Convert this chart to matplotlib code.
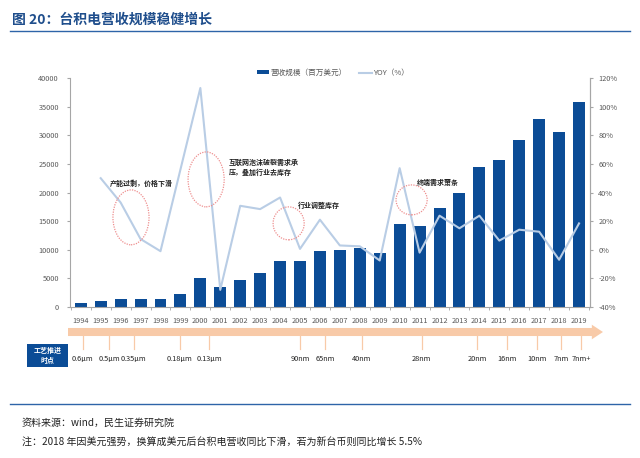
import matplotlib
matplotlib.use("Agg")
import matplotlib.pyplot as plt
from matplotlib.patches import Ellipse, Rectangle, FancyArrowPatch
from matplotlib.lines import Line2D
from matplotlib.transforms import blended_transform_factory
import numpy as np

plt.rcParams['font.family'] = ['Noto Sans CJK SC', 'DejaVu Sans']
plt.rcParams['axes.unicode_minus'] = False

# ---------------- data ----------------
years = [str(y) for y in range(1994, 2020)]
revenue = [640, 1000, 1340, 1460, 1460, 2330, 5010, 3550, 4720, 5940, 8090, 8090, 9720,
           10020, 10250, 9430, 14560, 14090, 17350, 19850, 24400, 25740, 29230, 32900,
           30500, 35750]
yoy_years = years[1:]
yoy = [50, 33, 7.5, -1, 56, 113, -28, 30.7, 28.4, 36.5, 0.6, 21, 3, 2.4, -7.5, 57, -2,
       23.8, 15, 23.8, 6.4, 14, 12.6, -7, 18.4]
left_ticks = [0, 5000, 10000, 15000, 20000, 25000, 30000, 35000, 40000]
right_ticks = [-40, -20, 0, 20, 40, 60, 80, 100, 120]
node_labels = ['0.6μm', '0.5μm', '0.35μm', '0.18μm', '0.13μm', '90nm', '65nm', '40nm',
               '28nm', '20nm', '16nm', '10nm', '7nm', '7nm+']
node_pos = [0.1, 1.42, 2.67, 4.98, 6.44, 11.0, 12.26, 14.1, 17.1, 19.9, 21.4, 22.9, 24.1, 25.1]
notes = ['产能过剩，价格下滑', '互联网泡沫破裂需求承\n压，叠加行业去库存', '行业调整库存', '终端需求萧条']
note_xy = [(1.475, 21680), (7.44, 24380), (10.9, 17840), (16.87, 21680)]
ellipses = [(2.52, 15660, 1.81, 9590), (6.29, 22290, 1.81, 9590),
            (10.43, 14610, 1.56, 5755), (16.6, 18710, 1.56, 5230)]

BAR = '#0b4c96'
LINE = '#b9cde5'
GREY = '#595959'
SPINE = '#a6a6a6'

W, H = 640, 458
fig = plt.figure(figsize=(6.4, 4.58), dpi=100)

def fx(px):
    return px / W

def fy(py):
    return 1 - py / H

ax = fig.add_axes([fx(70), fy(307), fx(590) - fx(70), fy(78) - fy(307)])
x = np.arange(len(years))
ax.bar(x, revenue, width=0.6, color=BAR, zorder=2, label='营收规模（百万美元）')
ax.set_ylim(0, 40000)
ax.set_yticks(left_ticks)
ax.set_yticklabels([str(v) for v in left_ticks])
ax.set_xlim(-0.54, len(years) - 1 + 0.55)
ax.set_xticks(x)
ax.set_xticklabels(years)
ax.set_xticks(np.arange(-0.5, len(years), 1), minor=True)
ax.tick_params(axis='x', which='major', length=0, pad=7, labelsize=5.3, labelcolor=GREY)
ax.tick_params(axis='x', which='minor', length=2, color=SPINE, direction='out')
ax.tick_params(axis='y', length=2, color=SPINE, labelsize=5.3, labelcolor=GREY, pad=6)
for s in ['top']:
    ax.spines[s].set_visible(False)
for s in ['left', 'right', 'bottom']:
    ax.spines[s].set_color(SPINE)
    ax.spines[s].set_linewidth(0.8)

ax2 = ax.twinx()
xi = np.arange(1, len(years))
ax2.plot(xi, yoy, color=LINE, lw=1.5, zorder=3, label='YOY（%）')
ax2.set_ylim(-40, 120)
ax2.set_yticks(right_ticks)
ax2.set_yticklabels([f'{v}%' for v in right_ticks])
ax2.tick_params(axis='y', length=2, color=SPINE, labelsize=5.3, labelcolor=GREY, pad=4)
for s in ['top', 'left', 'bottom']:
    ax2.spines[s].set_visible(False)
ax2.spines['right'].set_color(SPINE)
ax2.spines['right'].set_linewidth(0.8)

# legend
h1, l1 = ax.get_legend_handles_labels()
h2, l2 = ax2.get_legend_handles_labels()
leg = ax2.legend(h1 + h2, l1 + l2, loc='center', bbox_to_anchor=(0.506, 1.022), ncol=2,
                 frameon=False, fontsize=5.5, handlelength=1.6, handleheight=0.5,
                 columnspacing=1.6, handletextpad=0.2)
for t in leg.get_texts():
    t.set_color(GREY)

# annotations (ellipses and texts)
for (cx, cy, w, h) in ellipses:
    ax2.add_patch(Ellipse((cx, cy), w, h, transform=ax.transData, fill=False,
                          edgecolor='#ee8f8f', lw=0.9, ls=(0, (1, 1)), zorder=4,
                          clip_on=False))
for txt, (tx, ty) in zip(notes, note_xy):
    ax2.text(tx, ty, txt, transform=ax.transData, fontsize=5.0, fontweight='bold',
             color='#222222', ha='left', va='center', linespacing=1.3, zorder=5)

# process timeline arrow
blend = blended_transform_factory(ax.transData, fig.transFigure)
arrow = FancyArrowPatch((-0.64, fy(332)), (26.2, fy(332)), transform=blend,
                        arrowstyle='simple,tail_width=5.8,head_width=10.5,head_length=8',
                        mutation_scale=1, shrinkA=0, shrinkB=0, color='#f8caa8',
                        lw=0, clip_on=False)
fig.patches.append(arrow)
arrow.set_figure(fig)
for lab, p in zip(node_labels, node_pos):
    fig.add_artist(Line2D([p, p], [fy(336), fy(349)], transform=blend, color='#f8caa8', lw=0.9))
    fig.text(0, fy(359), lab, transform=blend, fontsize=5.3, color='#222222',
             ha='center', va='center')
    fig.texts[-1].set_x(p)

fig.add_artist(Rectangle((fx(27), fy(367)), fx(68) - fx(27), fy(344) - fy(367),
                         transform=fig.transFigure, color='#0b4c96', lw=0))
fig.text(fx(47.5), fy(355.5), '工艺推进\n时点', fontsize=5.0, color='white', fontweight='bold',
         ha='center', va='center', linespacing=1.4)

# title and footer
fig.text(fx(12), fy(20), '图 20：台积电营收规模稳健增长', fontsize=10, fontweight='bold',
         color='#1f4e8c', ha='left', va='center')
fig.add_artist(Line2D([fx(10), fx(630)], [fy(31), fy(31)], transform=fig.transFigure,
                      color='#2e64a8', lw=1.0))
fig.add_artist(Line2D([fx(10), fx(630)], [fy(404), fy(404)], transform=fig.transFigure,
                      color='#2e64a8', lw=1.0))
fig.text(fx(22), fy(423), '资料来源：wind，民生证券研究院', fontsize=7.2, color='#222222',
         ha='left', va='center')
fig.text(fx(22), fy(443), '注：2018 年因美元强势，换算成美元后台积电营收同比下滑，若为新台币则同比增长 5.5%',
         fontsize=7.2, color='#222222', ha='left', va='center')

fig.savefig('out.png', dpi=100, facecolor='white')
